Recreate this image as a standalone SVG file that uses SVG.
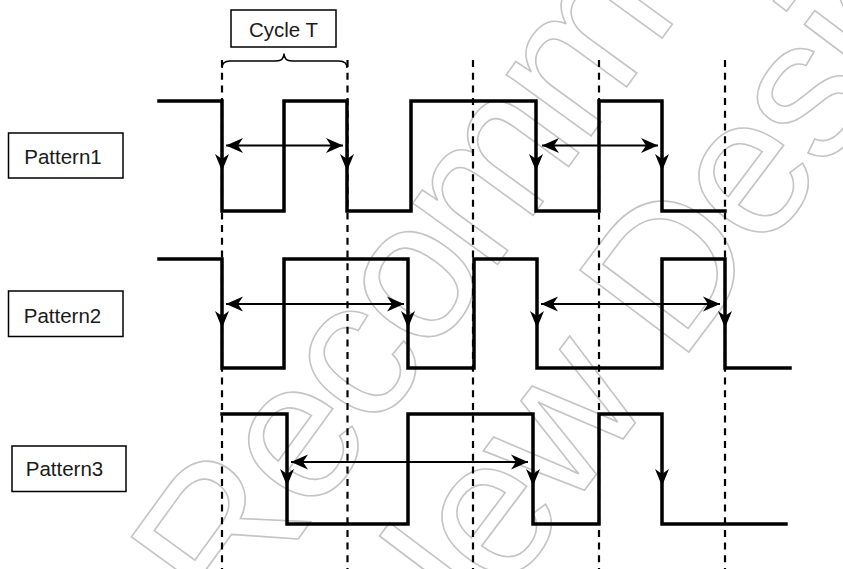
<svg xmlns="http://www.w3.org/2000/svg" xmlns:xlink="http://www.w3.org/1999/xlink" width="843" height="569" viewBox="0 0 843 569">
<style>
.wm{font-family:"Liberation Sans",Arial,sans-serif;font-size:198px;fill:none;stroke:#c4c4c4;stroke-width:1.6;letter-spacing:-6px}
.wave{fill:none;stroke:#000;stroke-width:3.5;stroke-linejoin:miter;stroke-linecap:square}
.dash{fill:none;stroke:#000;stroke-width:2.2;stroke-dasharray:7,5.7}
.box{fill:#fff;stroke:#000;stroke-width:1.5}
.lbl{font-family:"Liberation Sans",Arial,sans-serif;font-size:20.5px;fill:#1a1a1a;text-anchor:middle}
.dbl{fill:none;stroke:#000;stroke-width:2;marker-start:url(#arr);marker-end:url(#arr)}
.brace{fill:none;stroke:#000;stroke-width:1.5}
</style>
<defs>
<marker id="arr" markerUnits="userSpaceOnUse" markerWidth="20" markerHeight="20" refX="17" refY="10" orient="auto-start-reverse">
<path d="M17,10 L0,2.5 L5,10 L0,17.5 Z" fill="#000"/>
</marker>
<path id="ah" d="M0,0 L-17,-7 L-12,0 L-17,7 Z" fill="#000"/>
</defs>
<rect width="843" height="569" fill="#fff"/>
<g id="watermark">
<text class="wm" transform="translate(232,630) rotate(-54)">Recommended</text>
<text class="wm" transform="translate(422,706) rotate(-53)">New Design</text>
</g>
<g id="connectors">
<path class="dash" d="M222,60V569M347.5,60V569M473,60V569M599,60V569M725,60V569"/>
<path class="brace" d="M222,68 Q222,61 230,61 L276,61 Q284,61 284,53.5 Q284,61 292,61 L339,61 Q347,61 347,68"/>
<line class="dbl" x1="226" y1="145.5" x2="343" y2="145.5"/>
<line class="dbl" x1="542" y1="145.5" x2="658" y2="145.5"/>
<line class="dbl" x1="226" y1="304" x2="404" y2="304"/>
<line class="dbl" x1="541" y1="304" x2="720" y2="304"/>
<line class="dbl" x1="291" y1="462" x2="528" y2="462"/>
</g>
<g id="wave1">
<path class="wave" d="M159,101H222V211H284V101H347V211H411V101H536V211H599V101H662V211H725"/>
<use xlink:href="#ah" transform="translate(222,171) rotate(90)"/>
<use xlink:href="#ah" transform="translate(347,171) rotate(90)"/>
<use xlink:href="#ah" transform="translate(536,171) rotate(90)"/>
<use xlink:href="#ah" transform="translate(662,171) rotate(90)"/>
</g>
<g id="wave2">
<path class="wave" d="M159,259H222V368H284V259H408V368H474V259H537V368H662V259H725V368H790"/>
<use xlink:href="#ah" transform="translate(222,328) rotate(90)"/>
<use xlink:href="#ah" transform="translate(408,328) rotate(90)"/>
<use xlink:href="#ah" transform="translate(537,328) rotate(90)"/>
<use xlink:href="#ah" transform="translate(725,328) rotate(90)"/>
</g>
<g id="wave3">
<path class="wave" d="M222,414H287V524H408V414H533V524H599V414H662V524H786"/>
<use xlink:href="#ah" transform="translate(287,486) rotate(90)"/>
<use xlink:href="#ah" transform="translate(533,486) rotate(90)"/>
<use xlink:href="#ah" transform="translate(662,486) rotate(90)"/>
</g>
<g id="cycleT">
<rect class="box" x="231" y="10" width="105" height="37"/>
<text class="lbl" x="283.5" y="36.5">Cycle T</text>
</g>
<g id="pattern1">
<rect class="box" x="8.5" y="133" width="114.5" height="45"/>
<text class="lbl" x="63" y="164">Pattern1</text>
</g>
<g id="pattern2">
<rect class="box" x="8.5" y="291" width="114.5" height="45.5"/>
<text class="lbl" x="62.5" y="322.5">Pattern2</text>
</g>
<g id="pattern3">
<rect class="box" x="12" y="446" width="114" height="45.5"/>
<text class="lbl" x="64.5" y="476">Pattern3</text>
</g>
</svg>
